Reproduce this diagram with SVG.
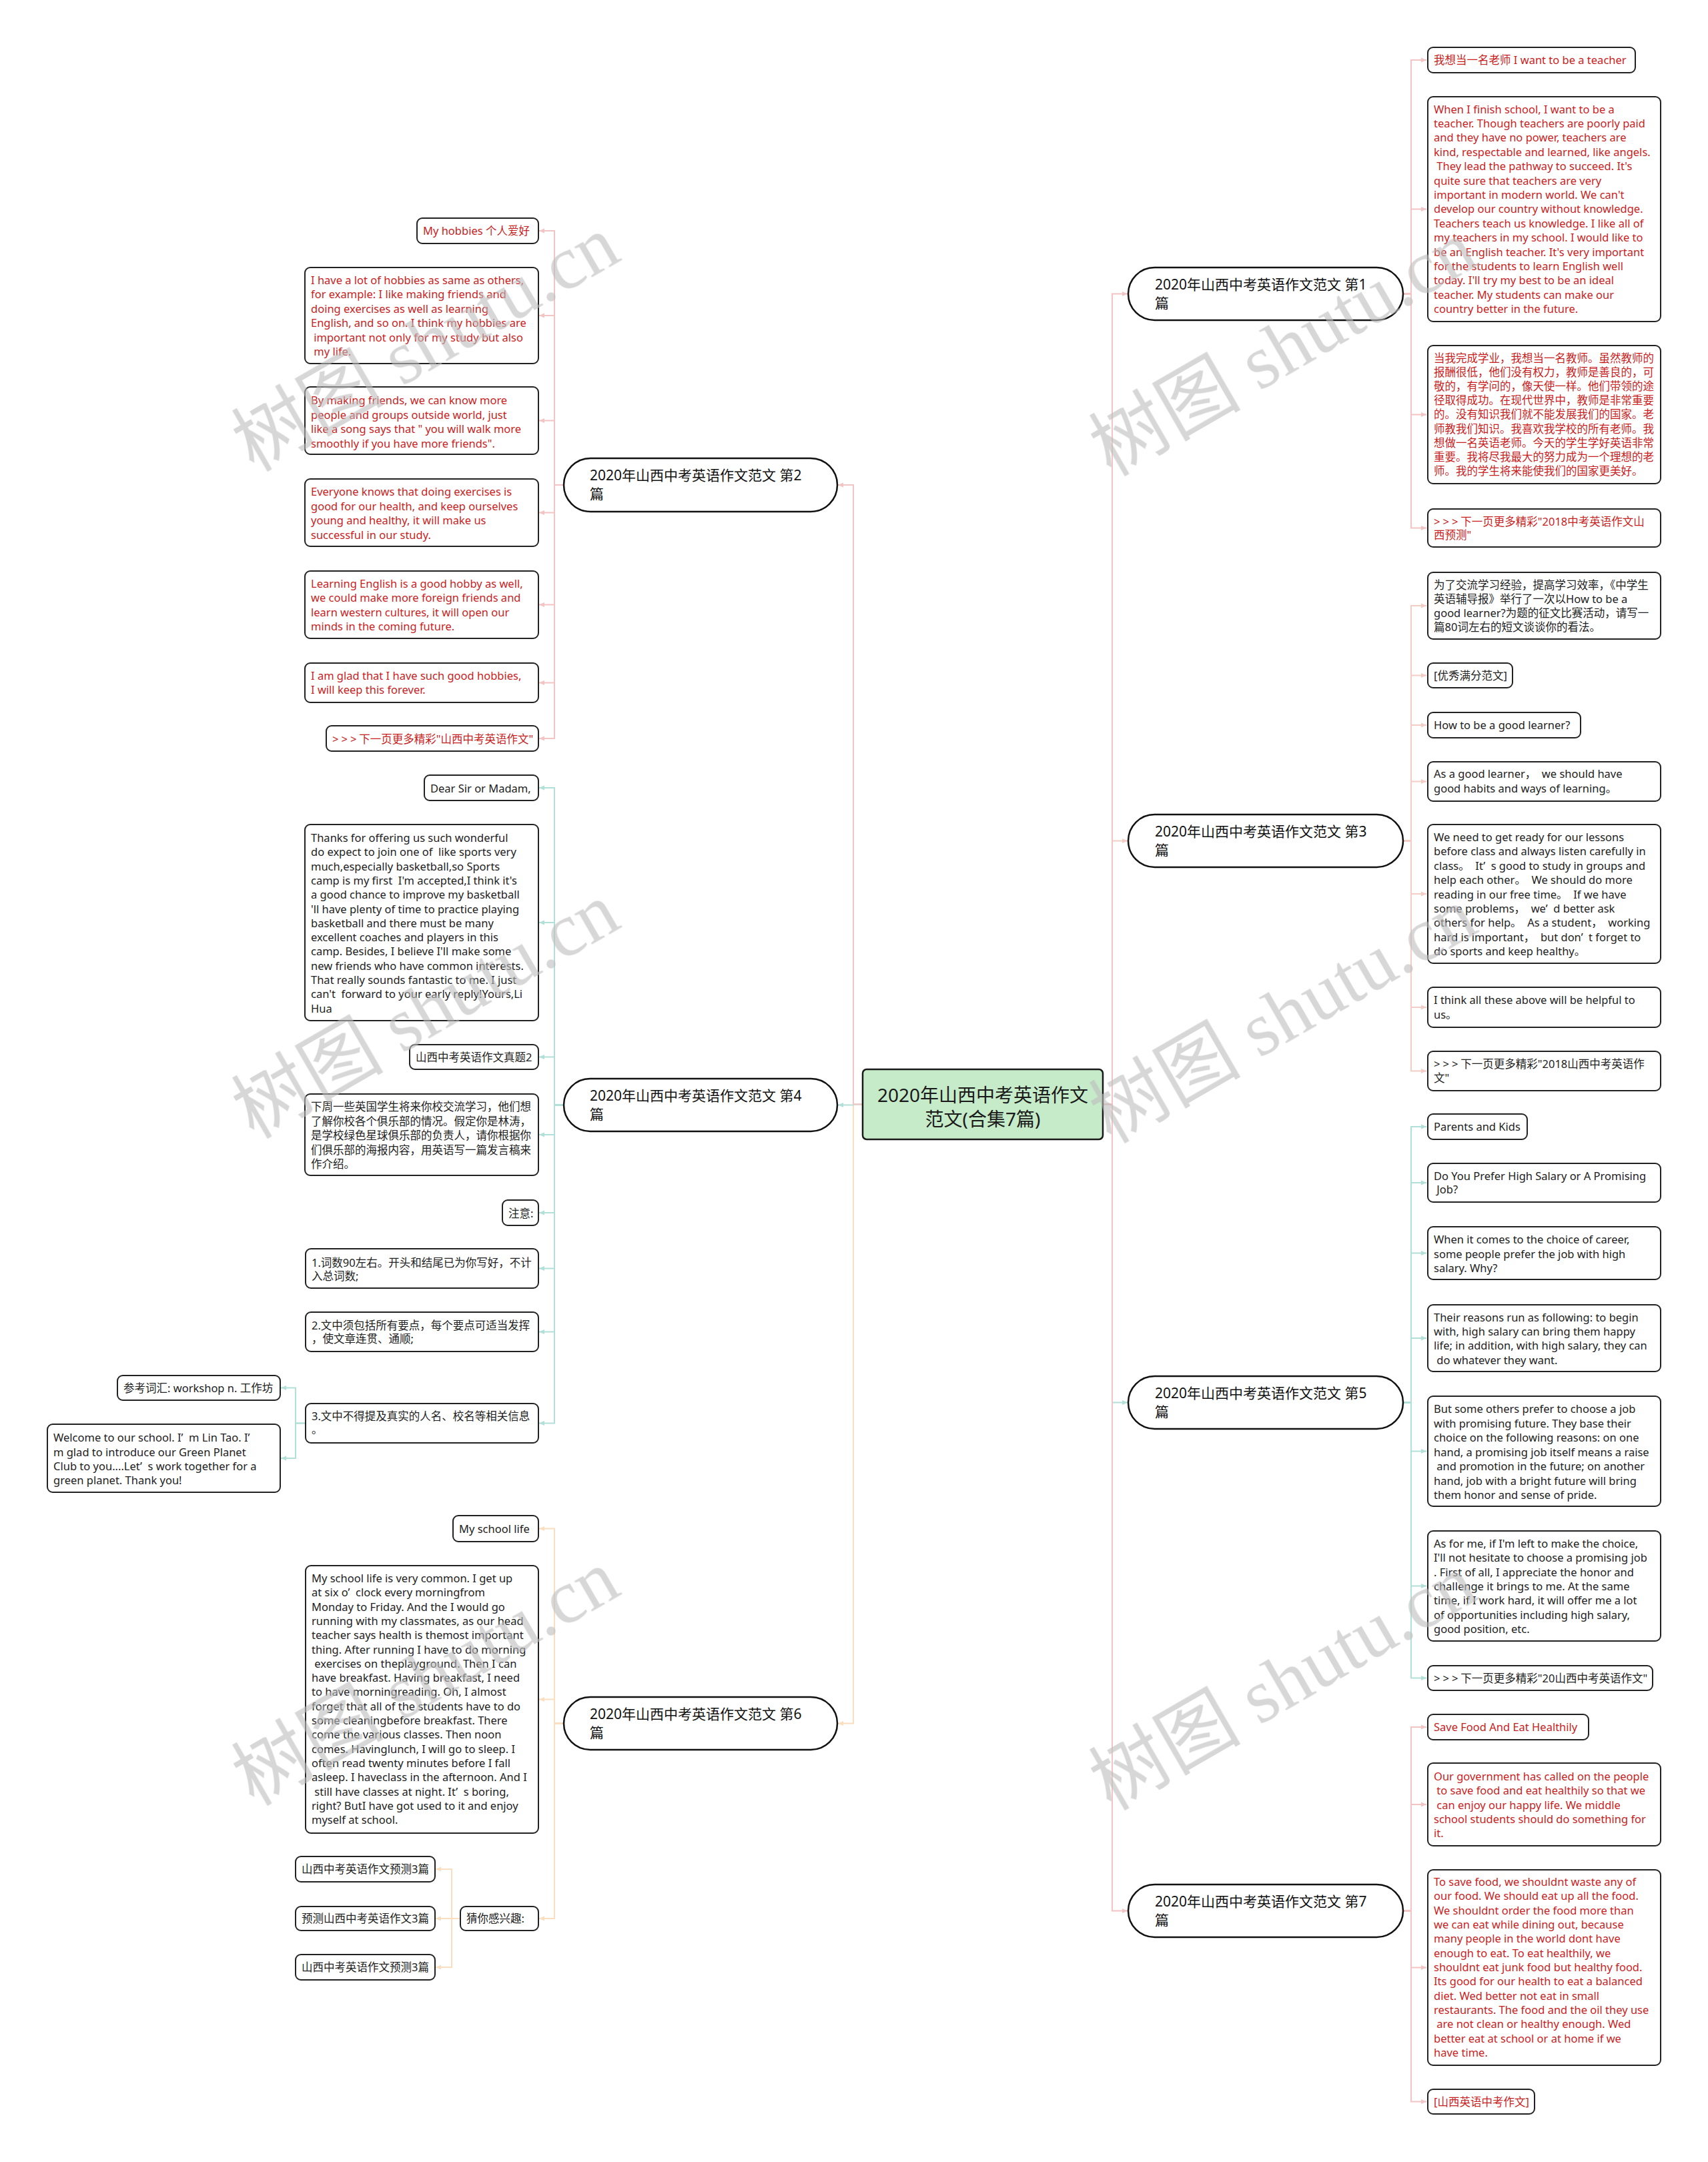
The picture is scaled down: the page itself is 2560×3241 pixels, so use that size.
<svg xmlns="http://www.w3.org/2000/svg" width="2560" height="3241" viewBox="0 0 2560 3241">
<defs>
<style>
.n rect{fill:#fff;stroke:#222;stroke-width:2}
.n text{font-family:"Noto Sans","Noto Sans CJK SC",sans-serif;font-size:16.5px;fill:#222;white-space:pre}
.n.r text{fill:#c81e1e}
.g{letter-spacing:4px}
.b rect{fill:#fff;stroke:#111;stroke-width:2.5}
.b text{font-family:"Noto Sans","Noto Sans CJK SC",sans-serif;font-size:21px;fill:#111}
.c rect{fill:#c6ebc9;stroke:#1a1a1a;stroke-width:2.5}
.c text{font-family:"Noto Sans","Noto Sans CJK SC",sans-serif;font-size:28px;fill:#1a1a1a;text-anchor:middle}
.e{fill:none;stroke-width:2}
.pk{stroke:#f3c4c4;marker-end:url(#apk)}
.pc{stroke:#f4cec6;marker-end:url(#apc)}
.tl{stroke:#b1e0d8;marker-end:url(#atl)}
.bg{stroke:#f9dec0;marker-end:url(#abg)}
.wm text{font-family:"Liberation Serif","Noto Sans CJK SC",serif;font-size:114px;fill:#bdbdbd}
</style>
<marker id="apk" markerWidth="10" markerHeight="10" refX="9" refY="5" orient="auto" markerUnits="userSpaceOnUse"><path d="M1,1.5 L9,5 L1,8.5 z" fill="#f3c4c4"/></marker>
<marker id="apc" markerWidth="10" markerHeight="10" refX="9" refY="5" orient="auto" markerUnits="userSpaceOnUse"><path d="M1,1.5 L9,5 L1,8.5 z" fill="#f4cec6"/></marker>
<marker id="atl" markerWidth="10" markerHeight="10" refX="9" refY="5" orient="auto" markerUnits="userSpaceOnUse"><path d="M1,1.5 L9,5 L1,8.5 z" fill="#b1e0d8"/></marker>
<marker id="abg" markerWidth="10" markerHeight="10" refX="9" refY="5" orient="auto" markerUnits="userSpaceOnUse"><path d="M1,1.5 L9,5 L1,8.5 z" fill="#f9dec0"/></marker>
</defs>
<rect width="2560" height="3241" fill="#fff"/>

<g id="connectors">
<path class="e tl" d="M1653 1655.5 H1667 V2102.5 H1690"/>
<path class="e pc" d="M1653 1655.5 H1667 V1260.5 H1690"/>
<path class="e pk" d="M1653 1655.5 H1667 V2864.5 H1690"/>
<path class="e pk" d="M1653 1655.5 H1667 V440.5 H1690"/>
<path class="e bg" d="M1293 1655.5 H1279 V2583.5 H1256"/>
<path class="e tl" d="M1293 1655.5 H1279 V1656.5 H1256"/>
<path class="e pk" d="M1293 1655.5 H1279 V727 H1256"/>

<path class="e pk" d="M2103 440.5 H2115 V90 H2138"/>
<path class="e pk" d="M2103 440.5 H2115 V313.5 H2138"/>
<path class="e pk" d="M2103 440.5 H2115 V621.5 H2138"/>
<path class="e pk" d="M2103 440.5 H2115 V791.5 H2138"/>

<path class="e pc" d="M2103 1260.5 H2115 V908 H2138"/>
<path class="e pc" d="M2103 1260.5 H2115 V1012.5 H2138"/>
<path class="e pc" d="M2103 1260.5 H2115 V1087 H2138"/>
<path class="e pc" d="M2103 1260.5 H2115 V1171.5 H2138"/>
<path class="e pc" d="M2103 1260.5 H2115 V1340 H2138"/>
<path class="e pc" d="M2103 1260.5 H2115 V1510 H2138"/>
<path class="e pc" d="M2103 1260.5 H2115 V1605.5 H2138"/>

<path class="e tl" d="M2103 2102.5 H2115 V1689 H2138"/>
<path class="e tl" d="M2103 2102.5 H2115 V1773 H2138"/>
<path class="e tl" d="M2103 2102.5 H2115 V1878.5 H2138"/>
<path class="e tl" d="M2103 2102.5 H2115 V2006 H2138"/>
<path class="e tl" d="M2103 2102.5 H2115 V2175.5 H2138"/>
<path class="e tl" d="M2103 2102.5 H2115 V2377.5 H2138"/>
<path class="e tl" d="M2103 2102.5 H2115 V2515.5 H2138"/>

<path class="e pk" d="M2103 2864.5 H2115 V2589 H2138"/>
<path class="e pk" d="M2103 2864.5 H2115 V2705 H2138"/>
<path class="e pk" d="M2103 2864.5 H2115 V2949.5 H2138"/>
<path class="e pk" d="M2103 2864.5 H2115 V3150.5 H2138"/>

<path class="e pk" d="M845 727 H831 V346 H808"/>
<path class="e pk" d="M845 727 H831 V473 H808"/>
<path class="e pk" d="M845 727 H831 V630.5 H808"/>
<path class="e pk" d="M845 727 H831 V768.5 H808"/>
<path class="e pk" d="M845 727 H831 V906.5 H808"/>
<path class="e pk" d="M845 727 H831 V1023.5 H808"/>
<path class="e pk" d="M845 727 H831 V1107 H808"/>

<path class="e tl" d="M845 1656.5 H831 V1181 H808"/>
<path class="e tl" d="M845 1656.5 H831 V1383 H808"/>
<path class="e tl" d="M845 1656.5 H831 V1584.5 H808"/>
<path class="e tl" d="M845 1656.5 H831 V1701 H808"/>
<path class="e tl" d="M845 1656.5 H831 V1818 H808"/>
<path class="e tl" d="M845 1656.5 H831 V1901.5 H808"/>
<path class="e tl" d="M845 1656.5 H831 V1996.5 H808"/>
<path class="e tl" d="M845 1656.5 H831 V2133.5 H808"/>
<path class="e tl" d="M458 2133.5 H443 V2080.5 H421"/>
<path class="e tl" d="M458 2133.5 H443 V2186 H421"/>

<path class="e bg" d="M845 2583.5 H831 V2291.5 H808"/>
<path class="e bg" d="M845 2583.5 H831 V2547.5 H808"/>
<path class="e bg" d="M845 2583.5 H831 V2876 H808"/>
<path class="e bg" d="M690 2876 H677 V2802 H653"/>
<path class="e bg" d="M690 2876 H677 V2876 H653"/>
<path class="e bg" d="M690 2876 H677 V2949 H653"/>
</g>

<g id="center" class="c"><rect x="1293" y="1603" width="360" height="105" rx="6"/><text x="1473" y="1652">2020年山西中考英语作文</text><text x="1473" y="1688">范文(合集7篇)</text></g>

<g id="b1" class="b"><rect x="1691" y="401" width="412" height="79" rx="39.5"/><text x="1731" y="434">2020年山西中考英语作文范文 第1</text><text x="1731" y="462">篇</text></g>
<g id="b3" class="b"><rect x="1691" y="1221" width="412" height="79" rx="39.5"/><text x="1731" y="1254">2020年山西中考英语作文范文 第3</text><text x="1731" y="1282">篇</text></g>
<g id="b5" class="b"><rect x="1691" y="2063" width="412" height="79" rx="39.5"/><text x="1731" y="2096">2020年山西中考英语作文范文 第5</text><text x="1731" y="2124">篇</text></g>
<g id="b7" class="b"><rect x="1691" y="2825" width="412" height="79" rx="39.5"/><text x="1731" y="2858">2020年山西中考英语作文范文 第7</text><text x="1731" y="2886">篇</text></g>
<g id="b2" class="b"><rect x="845" y="687" width="410" height="80" rx="40"/><text x="884" y="720">2020年山西中考英语作文范文 第2</text><text x="884" y="748">篇</text></g>
<g id="b4" class="b"><rect x="845" y="1617" width="410" height="79" rx="39.5"/><text x="884" y="1650">2020年山西中考英语作文范文 第4</text><text x="884" y="1678">篇</text></g>
<g id="b6" class="b"><rect x="845" y="2544" width="410" height="79" rx="39.5"/><text x="884" y="2577">2020年山西中考英语作文范文 第6</text><text x="884" y="2605">篇</text></g>

<g id="r1a" class="n r"><rect x="2140" y="71" width="311" height="38" rx="8"/><text x="2149" y="96">我想当一名老师 I want to be a teacher</text></g>
<g id="r1b" class="n r"><rect x="2140" y="145" width="349" height="337" rx="8"/><text><tspan x="2149" y="169.6">When I finish school, I want to be a</tspan><tspan x="2149" y="191">teacher. Though teachers are poorly paid</tspan><tspan x="2149" y="212.4">and they have no power, teachers are</tspan><tspan x="2149" y="233.8">kind, respectable and learned, like angels.</tspan><tspan x="2149" y="255.2"> They lead the pathway to succeed. It's</tspan><tspan x="2149" y="276.6">quite sure that teachers are very</tspan><tspan x="2149" y="298">important in modern world. We can't</tspan><tspan x="2149" y="319.4">develop our country without knowledge.</tspan><tspan x="2149" y="340.8">Teachers teach us knowledge. I like all of</tspan><tspan x="2149" y="362.2">my teachers in my school. I would like to</tspan><tspan x="2149" y="383.6">be an English teacher. It's very important</tspan><tspan x="2149" y="405">for the students to learn English well</tspan><tspan x="2149" y="426.4">today. I'll try my best to be an ideal</tspan><tspan x="2149" y="447.8">teacher. My students can make our</tspan><tspan x="2149" y="469.2">country better in the future.</tspan></text></g>
<g id="r1c" class="n r"><rect x="2140" y="518" width="349" height="207" rx="8"/><text><tspan x="2149" y="543">当我完成学业，我想当一名教师。虽然教师的</tspan><tspan x="2149" y="564.1">报酬很低，他们没有权力，教师是善良的，可</tspan><tspan x="2149" y="585.2">敬的，有学问的，像天使一样。他们带领的途</tspan><tspan x="2149" y="606.3">径取得成功。在现代世界中，教师是非常重要</tspan><tspan x="2149" y="627.4">的。没有知识我们就不能发展我们的国家。老</tspan><tspan x="2149" y="648.5">师教我们知识。我喜欢我学校的所有老师。我</tspan><tspan x="2149" y="669.6">想做一名英语老师。今天的学生学好英语非常</tspan><tspan x="2149" y="690.7">重要。我将尽我最大的努力成为一个理想的老</tspan><tspan x="2149" y="711.8">师。我的学生将来能使我们的国家更美好。</tspan></text></g>
<g id="r1d" class="n r"><rect x="2140" y="763" width="349" height="57" rx="8"/><text><tspan x="2149" y="788"><tspan class="g">&gt;&gt;&gt;</tspan>下一页更多精彩"2018中考英语作文山</tspan><tspan x="2149" y="808">西预测"</tspan></text></g>

<g id="r3a" class="n"><rect x="2140" y="858" width="349" height="100" rx="8"/><text><tspan x="2149" y="883">为了交流学习经验，提高学习效率，《中学生</tspan><tspan x="2149" y="904">英语辅导报》举行了一次以How to be a</tspan><tspan x="2149" y="925">good learner?为题的征文比赛活动，请写一</tspan><tspan x="2149" y="946">篇80词左右的短文谈谈你的看法。</tspan></text></g>
<g id="r3b" class="n"><rect x="2140" y="994" width="127" height="37" rx="8"/><text x="2149" y="1019">[优秀满分范文]</text></g>
<g id="r3c" class="n"><rect x="2140" y="1068" width="229" height="38" rx="8"/><text x="2149" y="1093">How to be a good learner?</text></g>
<g id="r3d" class="n"><rect x="2140" y="1142" width="349" height="59" rx="8"/><text><tspan x="2149" y="1166">As a good learner，  we should have</tspan><tspan x="2149" y="1188">good habits and ways of learning。</tspan></text></g>
<g id="r3e" class="n"><rect x="2140" y="1236" width="349" height="208" rx="8"/><text><tspan x="2149" y="1261">We need to get ready for our lessons</tspan><tspan x="2149" y="1282.4">before class and always listen carefully in</tspan><tspan x="2149" y="1303.8">class。  It’  s good to study in groups and</tspan><tspan x="2149" y="1325.2">help each other。  We should do more</tspan><tspan x="2149" y="1346.6">reading in our free time。  If we have</tspan><tspan x="2149" y="1368">some problems，  we’  d better ask</tspan><tspan x="2149" y="1389.4">others for help。  As a student，  working</tspan><tspan x="2149" y="1410.8">hard is important，  but don’  t forget to</tspan><tspan x="2149" y="1432.2">do sports and keep healthy。</tspan></text></g>
<g id="r3f" class="n"><rect x="2140" y="1480" width="349" height="60" rx="8"/><text><tspan x="2149" y="1505">I think all these above will be helpful to</tspan><tspan x="2149" y="1527">us。</tspan></text></g>
<g id="r3g" class="n"><rect x="2140" y="1576" width="349" height="59" rx="8"/><text><tspan x="2149" y="1601"><tspan class="g">&gt;&gt;&gt;</tspan>下一页更多精彩"2018山西中考英语作</tspan><tspan x="2149" y="1622">文"</tspan></text></g>

<g id="r5a" class="n"><rect x="2140" y="1670" width="149" height="38" rx="8"/><text x="2149" y="1695">Parents and Kids</text></g>
<g id="r5b" class="n"><rect x="2140" y="1744" width="349" height="58" rx="8"/><text><tspan x="2149" y="1769">Do You Prefer High Salary or A Promising</tspan><tspan x="2149" y="1789"> Job?</tspan></text></g>
<g id="r5c" class="n"><rect x="2140" y="1839" width="349" height="79" rx="8"/><text><tspan x="2149" y="1864">When it comes to the choice of career,</tspan><tspan x="2149" y="1886">some people prefer the job with high</tspan><tspan x="2149" y="1907">salary. Why?</tspan></text></g>
<g id="r5d" class="n"><rect x="2140" y="1956" width="349" height="100" rx="8"/><text><tspan x="2149" y="1981">Their reasons run as following: to begin</tspan><tspan x="2149" y="2002">with, high salary can bring them happy</tspan><tspan x="2149" y="2023">life; in addition, with high salary, they can</tspan><tspan x="2149" y="2045"> do whatever they want.</tspan></text></g>
<g id="r5e" class="n"><rect x="2140" y="2093" width="349" height="165" rx="8"/><text><tspan x="2149" y="2118">But some others prefer to choose a job</tspan><tspan x="2149" y="2139.5">with promising future. They base their</tspan><tspan x="2149" y="2161">choice on the following reasons: on one</tspan><tspan x="2149" y="2182.5">hand, a promising job itself means a raise</tspan><tspan x="2149" y="2204"> and promotion in the future; on another</tspan><tspan x="2149" y="2225.5">hand, job with a bright future will bring</tspan><tspan x="2149" y="2247">them honor and sense of pride.</tspan></text></g>
<g id="r5f" class="n"><rect x="2140" y="2295" width="349" height="165" rx="8"/><text><tspan x="2149" y="2320">As for me, if I'm left to make the choice,</tspan><tspan x="2149" y="2341.3">I'll not hesitate to choose a promising job</tspan><tspan x="2149" y="2362.6">. First of all, I appreciate the honor and</tspan><tspan x="2149" y="2383.9">challenge it brings to me. At the same</tspan><tspan x="2149" y="2405.2">time, if I work hard, it will offer me a lot</tspan><tspan x="2149" y="2426.5">of opportunities including high salary,</tspan><tspan x="2149" y="2447.8">good position, etc.</tspan></text></g>
<g id="r5g" class="n"><rect x="2140" y="2497" width="337" height="37" rx="8"/><text x="2149" y="2521.5"><tspan class="g">&gt;&gt;&gt;</tspan>下一页更多精彩"20山西中考英语作文"</text></g>

<g id="r7a" class="n r"><rect x="2140" y="2570" width="241" height="38" rx="8"/><text x="2149" y="2595">Save Food And Eat Healthily</text></g>
<g id="r7b" class="n r"><rect x="2140" y="2643" width="349" height="124" rx="8"/><text><tspan x="2149" y="2669">Our government has called on the people</tspan><tspan x="2149" y="2690.3"> to save food and eat healthily so that we</tspan><tspan x="2149" y="2711.5"> can enjoy our happy life. We middle</tspan><tspan x="2149" y="2732.8">school students should do something for</tspan><tspan x="2149" y="2754">it.</tspan></text></g>
<g id="r7c" class="n r"><rect x="2140" y="2803" width="349" height="293" rx="8"/><text><tspan x="2149" y="2827">To save food, we shouldnt waste any of</tspan><tspan x="2149" y="2848.3">our food. We should eat up all the food.</tspan><tspan x="2149" y="2869.7">We shouldnt order the food more than</tspan><tspan x="2149" y="2891">we can eat while dining out, because</tspan><tspan x="2149" y="2912.3">many people in the world dont have</tspan><tspan x="2149" y="2933.7">enough to eat. To eat healthily, we</tspan><tspan x="2149" y="2955">shouldnt eat junk food but healthy food.</tspan><tspan x="2149" y="2976.3">Its good for our health to eat a balanced</tspan><tspan x="2149" y="2997.7">diet. Wed better not eat in small</tspan><tspan x="2149" y="3019">restaurants. The food and the oil they use</tspan><tspan x="2149" y="3040.3"> are not clean or healthy enough. Wed</tspan><tspan x="2149" y="3061.7">better eat at school or at home if we</tspan><tspan x="2149" y="3083">have time.</tspan></text></g>
<g id="r7d" class="n r"><rect x="2140" y="3132" width="160" height="37" rx="8"/><text x="2149" y="3157">[山西英语中考作文]</text></g>

<g id="l2a" class="n r"><rect x="625" y="327" width="182" height="38" rx="8"/><text x="634" y="352">My hobbies 个人爱好</text></g>
<g id="l2b" class="n r"><rect x="457" y="401" width="350" height="144" rx="8"/><text><tspan x="466" y="426">I have a lot of hobbies as same as others,</tspan><tspan x="466" y="447.4">for example: I like making friends and</tspan><tspan x="466" y="468.8">doing exercises as well as learning</tspan><tspan x="466" y="490.2">English, and so on. I think my hobbies are</tspan><tspan x="466" y="511.6"> important not only for my study but also</tspan><tspan x="466" y="533"> my life.</tspan></text></g>
<g id="l2c" class="n r"><rect x="457" y="580" width="350" height="101" rx="8"/><text><tspan x="466" y="606">By making friends, we can know more</tspan><tspan x="466" y="627.7">people and groups outside world, just</tspan><tspan x="466" y="649.3">like a song says that " you will walk more</tspan><tspan x="466" y="671">smoothly if you have more friends".</tspan></text></g>
<g id="l2d" class="n r"><rect x="457" y="718" width="350" height="101" rx="8"/><text><tspan x="466" y="743">Everyone knows that doing exercises is</tspan><tspan x="466" y="764.5">good for our health, and keep ourselves</tspan><tspan x="466" y="786">young and healthy, it will make us</tspan><tspan x="466" y="807.5">successful in our study.</tspan></text></g>
<g id="l2e" class="n r"><rect x="457" y="856" width="350" height="101" rx="8"/><text><tspan x="466" y="881">Learning English is a good hobby as well,</tspan><tspan x="466" y="902.3">we could make more foreign friends and</tspan><tspan x="466" y="923.7">learn western cultures, it will open our</tspan><tspan x="466" y="945">minds in the coming future.</tspan></text></g>
<g id="l2f" class="n r"><rect x="457" y="994" width="350" height="59" rx="8"/><text><tspan x="466" y="1019">I am glad that I have such good hobbies,</tspan><tspan x="466" y="1040">I will keep this forever.</tspan></text></g>
<g id="l2g" class="n r"><rect x="489" y="1088" width="318" height="38" rx="8"/><text x="498" y="1114"><tspan class="g">&gt;&gt;&gt;</tspan>下一页更多精彩"山西中考英语作文"</text></g>

<g id="l4a" class="n"><rect x="636" y="1162" width="171" height="38" rx="8"/><text x="645" y="1188">Dear Sir or Madam,</text></g>
<g id="l4b" class="n"><rect x="457" y="1236" width="350" height="294" rx="8"/><text><tspan x="466" y="1262">Thanks for offering us such wonderful</tspan><tspan x="466" y="1283.3">do expect to join one of  like sports very</tspan><tspan x="466" y="1304.6">much,especially basketball,so Sports</tspan><tspan x="466" y="1325.9">camp is my first  I'm accepted,I think it's</tspan><tspan x="466" y="1347.2">a good chance to improve my basketball</tspan><tspan x="466" y="1368.5">'ll have plenty of time to practice playing</tspan><tspan x="466" y="1389.8">basketball and there must be many</tspan><tspan x="466" y="1411.1">excellent coaches and players in this</tspan><tspan x="466" y="1432.4">camp. Besides, I believe I'll make some</tspan><tspan x="466" y="1453.7">new friends who have common interests.</tspan><tspan x="466" y="1475">That really sounds fantastic to me. I just</tspan><tspan x="466" y="1496.3">can't  forward to your early reply!Yours,Li</tspan><tspan x="466" y="1517.6">Hua</tspan></text></g>
<g id="l4c" class="n"><rect x="614" y="1566" width="193" height="37" rx="8"/><text x="623" y="1591">山西中考英语作文真题2</text></g>
<g id="l4d" class="n"><rect x="457" y="1640" width="350" height="122" rx="8"/><text><tspan x="466" y="1665">下周一些英国学生将来你校交流学习，他们想</tspan><tspan x="466" y="1686.5">了解你校各个俱乐部的情况。假定你是林涛，</tspan><tspan x="466" y="1708">是学校绿色星球俱乐部的负责人，请你根据你</tspan><tspan x="466" y="1729.5">们俱乐部的海报内容，用英语写一篇发言稿来</tspan><tspan x="466" y="1751">作介绍。</tspan></text></g>
<g id="l4e" class="n"><rect x="753" y="1799" width="54" height="38" rx="8"/><text x="762" y="1825">注意:</text></g>
<g id="l4f" class="n"><rect x="458" y="1872" width="349" height="59" rx="8"/><text><tspan x="467" y="1899">1.词数90左右。开头和结尾已为你写好，不计</tspan><tspan x="467" y="1919">入总词数;</tspan></text></g>
<g id="l4g" class="n"><rect x="458" y="1967" width="349" height="59" rx="8"/><text><tspan x="467" y="1993">2.文中须包括所有要点，每个要点可适当发挥</tspan><tspan x="467" y="2013">，使文章连贯、通顺;</tspan></text></g>
<g id="l4h" class="n"><rect x="458" y="2104" width="349" height="59" rx="8"/><text><tspan x="467" y="2129">3.文中不得提及真实的人名、校名等相关信息</tspan><tspan x="467" y="2149">。</tspan></text></g>
<g id="l4i" class="n"><rect x="176" y="2062" width="244" height="37" rx="8"/><text x="185" y="2087">参考词汇: workshop n. 工作坊</text></g>
<g id="l4j" class="n"><rect x="71" y="2135" width="349" height="102" rx="8"/><text><tspan x="80" y="2161">Welcome to our school. I’  m Lin Tao. I’</tspan><tspan x="80" y="2183">m glad to introduce our Green Planet</tspan><tspan x="80" y="2204">Club to you....Let’  s work together for a</tspan><tspan x="80" y="2225">green planet. Thank you!</tspan></text></g>

<g id="l6a" class="n"><rect x="679" y="2272" width="128" height="39" rx="8"/><text x="688" y="2298">My school life</text></g>
<g id="l6b" class="n"><rect x="458" y="2347" width="349" height="401" rx="8"/><text><tspan x="467" y="2372">My school life is very common. I get up</tspan><tspan x="467" y="2393.3">at six o’  clock every morningfrom</tspan><tspan x="467" y="2414.6">Monday to Friday. And the I would go</tspan><tspan x="467" y="2435.9">running with my classmates, as our head</tspan><tspan x="467" y="2457.2">teacher says health is themost important</tspan><tspan x="467" y="2478.5">thing. After running I have to do morning</tspan><tspan x="467" y="2499.8"> exercises on theplayground. Then I can</tspan><tspan x="467" y="2521.1">have breakfast. Having breakfast, I need</tspan><tspan x="467" y="2542.4">to have morningreading. Oh, I almost</tspan><tspan x="467" y="2563.7">forget that all of the students have to do</tspan><tspan x="467" y="2585">some cleaningbefore breakfast. There</tspan><tspan x="467" y="2606.3">come the various classes. Then noon</tspan><tspan x="467" y="2627.6">comes. Havinglunch, I will go to sleep. I</tspan><tspan x="467" y="2648.9">often read twenty minutes before I fall</tspan><tspan x="467" y="2670.2">asleep. I haveclass in the afternoon. And I</tspan><tspan x="467" y="2691.5"> still have classes at night. It’  s boring,</tspan><tspan x="467" y="2712.8">right? ButI have got used to it and enjoy</tspan><tspan x="467" y="2734.1">myself at school.</tspan></text></g>
<g id="l6c" class="n"><rect x="690" y="2858" width="117" height="36" rx="8"/><text x="699" y="2882">猜你感兴趣:</text></g>
<g id="l6d" class="n"><rect x="443" y="2783" width="209" height="38" rx="8"/><text x="452" y="2808">山西中考英语作文预测3篇</text></g>
<g id="l6e" class="n"><rect x="443" y="2858" width="209" height="36" rx="8"/><text x="452" y="2882">预测山西中考英语作文3篇</text></g>
<g id="l6f" class="n"><rect x="443" y="2930" width="209" height="38" rx="8"/><text x="452" y="2955">山西中考英语作文预测3篇</text></g>

<g id="watermark" class="wm" opacity="0.6">
<text transform="translate(380 708) rotate(-30)">树图 shutu.cn</text>
<text transform="translate(1665 715) rotate(-30)">树图 shutu.cn</text>
<text transform="translate(380 1708) rotate(-30)">树图 shutu.cn</text>
<text transform="translate(1665 1715) rotate(-30)">树图 shutu.cn</text>
<text transform="translate(380 2708) rotate(-30)">树图 shutu.cn</text>
<text transform="translate(1665 2715) rotate(-30)">树图 shutu.cn</text>
</g>
</svg>
